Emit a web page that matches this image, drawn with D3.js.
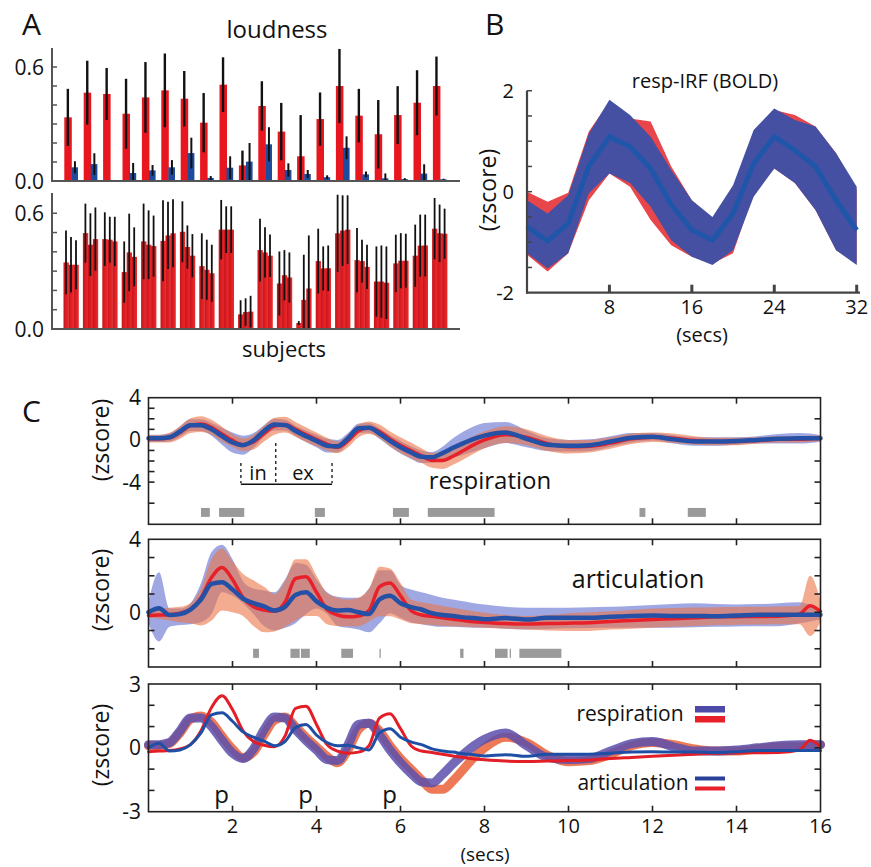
<!DOCTYPE html>
<html><head><meta charset="utf-8">
<script src="https://cdn.jsdelivr.net/npm/d3@7"></script>
<style>body{margin:0;background:#fff}svg{display:block;font-family:"Open Sans",sans-serif}</style>
</head><body><svg id="c" width="871" height="867"></svg>
<script>
// ---------------- DATA ----------------
// Panel A
const subjects = [1,2,3,4,5,6,7,8,9,10,11,12,13,14,15,16,17,18,19,20];
const loudRed    = [0.335,0.465,0.458,0.354,0.44,0.477,0.433,0.307,0.507,0.082,0.395,0.26,0.13,0.326,0.5,0.344,0.246,0.347,0.412,0.5];
const loudRedErr = [0.15,0.168,0.137,0.184,0.186,0.194,0.146,0.156,0.144,0.078,0.13,0.151,0.217,0.14,0.195,0.141,0.18,0.152,0.171,0.155];
const loudBlue    = [0.072,0.089,0.004,0.042,0.056,0.072,0.147,0.016,0.07,0.102,0.193,0.058,0.037,0.02,0.175,0.035,0.014,0.01,0.039,0.009];
const loudBlueErr = [0.032,0.057,0.0,0.053,0.028,0.038,0.081,0.01,0.06,0.098,0.09,0.035,0.021,0.01,0.06,0.015,0.026,0.005,0.049,0.003];
const allA = [0.345,0.497,0.466,0.295,0.454,0.457,0.504,0.326,0.515,0.076,0.409,0.236,0.031,0.352,0.496,0.357,0.246,0.34,0.38,0.52];
const allB = [0.333,0.437,0.463,0.397,0.437,0.485,0.425,0.307,0.515,0.088,0.397,0.279,0.151,0.314,0.51,0.352,0.246,0.354,0.432,0.496];
const allC = [0.333,0.466,0.454,0.374,0.43,0.496,0.38,0.289,0.515,0.09,0.38,0.267,0.21,0.315,0.515,0.322,0.24,0.354,0.433,0.494];
const errA = [0.165,0.153,0.139,0.159,0.196,0.21,0.158,0.17,0.154,0.073,0.163,0.166,0.01,0.168,0.2,0.166,0.182,0.149,0.161,0.159];
const errB = [0.144,0.163,0.119,0.201,0.178,0.174,0.112,0.156,0.121,0.071,0.13,0.13,0.234,0.114,0.183,0.111,0.187,0.143,0.161,0.149];
const errC = [0.127,0.164,0.128,0.153,0.158,0.176,0.112,0.148,0.121,0.082,0.11,0.13,0.275,0.118,0.178,0.115,0.188,0.14,0.16,0.13];
const yTicksA = [0.0,0.6];

// Panel B
const tB      = [0,2,4,6,8,10,12,14,16,18,20,22,24,26,28,30,32];
const bMean   = [-0.69,-0.98,-0.63,0.5,1.09,0.89,0.46,-0.26,-0.76,-0.96,-0.43,0.56,1.09,0.82,0.5,-0.17,-0.76];
const bBlueHi = [-0.17,-0.43,-0.07,1.15,1.82,1.52,1.09,0.43,-0.17,-0.5,0.13,1.22,1.65,1.42,1.29,0.76,0.1];
const bBlueLo = [-1.22,-1.52,-1.22,-0.03,0.36,0.17,-0.3,-0.96,-1.29,-1.45,-1.16,-0.1,0.46,0.17,-0.36,-1.16,-1.45];
const bRedHi  = [0,-0.2,-0.02,1.19,1.78,1.45,1.39,0.5,-0.17,-0.53,0.07,1.19,1.62,1.52,1.29,0.76,0.03];
const bRedLo  = [-1.25,-1.58,-1.22,-0.17,0.36,0.1,-0.56,-1.06,-1.29,-1.42,-1.22,-0.03,0.46,0.17,-0.36,-1.16,-1.42];
const xTicksB = [8,16,24,32];
const yTicksB = [-2,0,2];

// Panel C
const tC = [0,0.25,0.5,0.75,1,1.25,1.5,1.75,2,2.25,2.5,2.75,3,3.25,3.5,3.75,4,4.25,4.5,4.75,5,5.25,5.5,5.75,6,6.25,6.5,6.75,7,7.25,7.5,7.75,8,8.5,9,9.5,10,10.5,11,11.5,12,12.5,13,13.5,14,14.5,15,15.5,15.75,16];
const respBlue = [0.15,0.15,0.25,0.8,1.4,1.4,1.0,0.35,-0.25,-0.5,-0.05,0.85,1.45,1.4,0.85,0.35,-0.1,-0.55,-0.6,0.15,1.1,1.15,0.6,-0.1,-0.7,-1.2,-1.6,-1.65,-1.25,-0.75,-0.3,0.1,0.4,0.7,0.1,-0.45,-0.55,-0.5,-0.15,0.2,0.3,0.05,-0.15,-0.15,-0.1,0,0.1,0.15,0.15,0.15];
const respRed  = [0.1,0.1,0.2,0.7,1.35,1.5,1.2,0.55,-0.05,-0.45,-0.2,0.6,1.3,1.45,1.0,0.5,0.05,-0.4,-0.7,-0.1,0.85,1.15,0.8,0.1,-0.5,-1.0,-1.5,-1.95,-1.95,-1.55,-1.0,-0.45,0.0,0.5,0.25,-0.35,-0.65,-0.6,-0.3,0.1,0.25,0.15,-0.05,-0.15,-0.15,-0.05,0.05,0.05,0.1,0.15];
const respBlueHalf = [0.35,0.35,0.4,0.5,0.55,0.55,0.6,0.8,0.95,0.9,0.7,0.55,0.55,0.5,0.5,0.55,0.6,0.65,0.6,0.5,0.45,0.45,0.5,0.55,0.6,0.6,0.6,0.5,0.6,0.9,1.1,1.2,1.2,1.0,0.8,0.6,0.55,0.55,0.5,0.45,0.35,0.4,0.4,0.4,0.35,0.35,0.45,0.5,0.45,0.3];
const respRedHalf  = [0.35,0.35,0.45,0.6,0.7,0.75,0.7,0.7,0.6,0.6,0.7,0.75,0.8,0.75,0.7,0.7,0.65,0.6,0.55,0.6,0.6,0.6,0.65,0.7,0.75,0.75,0.7,0.7,0.8,0.8,0.85,0.85,0.8,0.8,0.75,0.7,0.65,0.6,0.55,0.5,0.45,0.45,0.4,0.35,0.35,0.3,0.3,0.3,0.3,0.3];
const artBlue   = [0,0.22,-0.15,-0.1,0.15,0.7,1.55,1.65,1.25,0.75,0.5,0.32,0.1,0.3,0.95,1.1,0.6,0.25,0.1,0.12,0.0,-0.1,0.7,0.9,0.5,0.28,0.15,-0.05,-0.15,-0.2,-0.28,-0.32,-0.38,-0.32,-0.4,-0.3,-0.3,-0.3,-0.25,-0.2,-0.18,-0.2,-0.2,-0.22,-0.18,-0.13,-0.13,-0.13,-0.13,-0.13];
const artRed    = [-0.18,-0.15,-0.13,-0.05,0.15,0.8,1.9,2.45,1.8,0.8,0.3,0.12,0.05,0.55,1.85,1.95,1.1,0.15,-0.15,-0.25,-0.2,0.1,1.4,1.6,0.9,0.1,-0.15,-0.22,-0.3,-0.38,-0.45,-0.52,-0.56,-0.62,-0.64,-0.62,-0.6,-0.57,-0.5,-0.45,-0.4,-0.35,-0.3,-0.25,-0.24,-0.23,-0.22,-0.1,0.36,0.05];
const artBlueHi = [0.6,2.2,0.2,0.2,0.5,1.6,3.3,3.7,2.9,1.7,1.3,1.2,1.1,1.8,2.7,2.6,1.8,1.1,0.85,0.8,0.8,1.3,2.3,2.3,1.5,1.25,1.1,0.95,0.8,0.7,0.6,0.5,0.42,0.3,0.25,0.25,0.25,0.28,0.3,0.35,0.4,0.45,0.5,0.45,0.42,0.45,0.5,0.55,0.4,0.15];
const artBlueLo = [-0.6,-1.6,-0.8,-0.7,-0.65,-0.55,-0.1,1.1,0.9,0.5,-0.1,-0.75,-1.0,-0.85,-0.6,-0.1,0.2,-0.1,-0.75,-0.85,-0.95,-1.1,-0.6,-0.05,-0.3,-0.55,-0.65,-0.75,-0.8,-0.8,-0.82,-0.85,-0.85,-0.9,-0.95,-0.92,-0.88,-0.86,-0.85,-0.85,-0.85,-0.85,-0.82,-0.8,-0.78,-0.77,-0.76,-0.6,-0.5,-0.4];
const artRedHi  = [0.15,0.2,0.25,0.3,0.5,1.3,2.9,3.5,2.8,2.1,1.75,1.4,1.0,1.7,2.9,2.9,2.0,1.05,0.8,0.7,0.8,1.3,2.5,2.4,1.6,0.7,0.55,0.45,0.35,0.25,0.15,0.05,-0.02,-0.15,-0.2,-0.15,-0.05,0.0,0.05,0.12,0.2,0.24,0.26,0.28,0.29,0.3,0.32,0.35,2.0,0.6];
const artRedLo  = [-0.3,-0.35,-0.45,-0.55,-0.6,-0.72,-0.45,0.1,0.0,-0.2,-0.75,-1.1,-1.05,-0.8,-0.45,-0.2,-0.2,-0.65,-0.75,-0.76,-0.76,-0.5,-0.22,-0.22,-0.4,-0.6,-0.65,-0.7,-0.75,-0.77,-0.8,-0.82,-0.85,-0.9,-0.95,-1.0,-1.03,-1.02,-0.95,-0.9,-0.85,-0.8,-0.75,-0.7,-0.68,-0.67,-0.66,-0.65,-1.3,-0.5];
const sigResp = [[1.25,1.46],[1.68,2.28],[3.96,4.2],[5.82,6.2],[6.65,8.24],[11.69,11.83],[12.84,13.27]];
const sigArt  = [[2.49,2.63],[3.38,3.6],[3.63,3.84],[4.59,4.87],[5.5,5.53],[7.42,7.5],[8.25,8.55],[8.6,8.63],[8.83,9.83]];
const xTicksC = [2,4,6,8,10,12,14,16];
const inExMarks = [2.2,3.03,4.37];

// ---------------- DRAW ----------------
const svg = d3.select('#c');
function txt(x,y,s,size,anchor,extra){
  const t = svg.append('text').attr('x',x).attr('y',y).text(s)
    .attr('font-size',size).attr('text-anchor',anchor||'middle').attr('fill','#111');
  if(extra) extra(t);
  return t;
}
const RED='#e8161e', BLUE='#1d4c9e';

// ===== Panel A =====
const xA = d3.scaleBand().domain(subjects).range([63.5,447.1]).paddingInner(0.227).paddingOuter(0);
const pairA = d3.scaleBand().domain(['r','b']).range([0.8,xA.bandwidth()]);
const triA = d3.scaleBand().domain([0,1,2]).range([0,xA.bandwidth()]);
const yA1 = d3.scaleLinear([0,0.7],[181,48]);
const yA2 = d3.scaleLinear([0,0.705],[329,193]);

const defs = svg.append('defs');
const gr = defs.append('linearGradient').attr('id','rg').attr('x1',0).attr('x2',1).attr('y1',0).attr('y2',0);
gr.append('stop').attr('offset',0).attr('stop-color','#c8141b');
gr.append('stop').attr('offset',1).attr('stop-color','#ef2a2c');

const gA1 = svg.append('g');
subjects.forEach((s,i)=>{
  gA1.append('rect').attr('x',xA(s)+pairA('r')).attr('width',pairA.bandwidth()+0.4)
    .attr('y',yA1(loudRed[i])).attr('height',yA1(0)-yA1(loudRed[i])).attr('fill',RED);
  gA1.append('rect').attr('x',xA(s)+pairA('b')).attr('width',pairA.bandwidth()-0.5)
    .attr('y',yA1(loudBlue[i])).attr('height',yA1(0)-yA1(loudBlue[i])).attr('fill',BLUE);
  const cr = xA(s)+pairA('r')+pairA.bandwidth()/2, cb = xA(s)+pairA('b')+pairA.bandwidth()/2;
  gA1.append('line').attr('x1',cr).attr('x2',cr).attr('y1',yA1(Math.max(0,loudRed[i]-loudRedErr[i]))).attr('y2',yA1(loudRed[i]+loudRedErr[i]))
    .attr('stroke','#111').attr('stroke-width',2.4);
  if(loudBlueErr[i]>0) gA1.append('line').attr('x1',cb).attr('x2',cb).attr('y1',yA1(Math.max(0,loudBlue[i]-loudBlueErr[i]))).attr('y2',yA1(loudBlue[i]+loudBlueErr[i]))
    .attr('stroke','#111').attr('stroke-width',2);
});
const gA2 = svg.append('g');
const allV=[allA,allB,allC], allE=[errA,errB,errC];
subjects.forEach((s,i)=>{
  [0,1,2].forEach(k=>{
    const v=allV[k][i];
    gA2.append('rect').attr('x',xA(s)+triA(k)).attr('width',triA.bandwidth()+0.3)
      .attr('y',yA2(v)).attr('height',yA2(0)-yA2(v)).attr('fill','url(#rg)');
  });
  [0,1,2].forEach(k=>{
    const v=allV[k][i], e=allE[k][i], c=xA(s)+triA(k)+triA.bandwidth()/2;
    gA2.append('line').attr('x1',c).attr('x2',c).attr('y1',yA2(Math.max(0,v-e))).attr('y2',yA2(v+e))
      .attr('stroke','#111').attr('stroke-width',1.8);
  });
});
function axisA(y, top){
  const g = svg.append('g').attr('stroke','#555').attr('stroke-width',2);
  g.append('line').attr('x1',52).attr('x2',52).attr('y1',top).attr('y2',y(0)+1);
  g.append('line').attr('x1',51).attr('x2',460).attr('y1',y(0)).attr('y2',y(0));
  d3.range(1,7).forEach(k=>{ g.append('line').attr('x1',52).attr('x2',57).attr('y1',y(k/10)).attr('y2',y(k/10)).attr('stroke-width',1.5); });
  yTicksA.forEach(v=>txt(44,y(v),d3.format('.1f')(v),21,'end',t=>t.attr('dy','0.36em')));
}
axisA(yA1,48); axisA(yA2,193);
txt(22,35,'A',30,'start');
txt(277,38,'loudness',24);
txt(284,357,'subjects',22);

// ===== Panel B =====
const xB = d3.scaleLinear([0,32],[527,856.7]);
const yB = d3.scaleLinear([-2,2],[292.7,90.7]);
const idxB = d3.range(tB.length);
const areaB = (lo,hi)=>d3.area().x(i=>xB(tB[i])).y0(i=>yB(lo[i])).y1(i=>yB(hi[i]));
svg.append('path').attr('d',areaB(bRedLo,bRedHi)(idxB)).attr('fill','#e8464a');
svg.append('path').attr('d',areaB(bBlueLo,bBlueHi)(idxB)).attr('fill','#4550a2');
svg.append('path').attr('d',d3.line().x(i=>xB(tB[i])).y(i=>yB(bMean[i]))(idxB))
  .attr('fill','none').attr('stroke','#1f56aa').attr('stroke-width',5);
const gB = svg.append('g').attr('stroke','#444').attr('stroke-width',2.2);
gB.append('line').attr('x1',xB(0)).attr('x2',xB(0)).attr('y1',yB(2)).attr('y2',yB(-2)+1);
gB.append('line').attr('x1',xB(0)-1).attr('x2',860).attr('y1',yB(-2)).attr('y2',yB(-2));
d3.range(-1.5,2.01,0.5).forEach(v=>gB.append('line').attr('x1',xB(0)).attr('x2',xB(0)+5).attr('y1',yB(v)).attr('y2',yB(v)).attr('stroke-width',1.5));
xTicksB.forEach(v=>gB.append('line').attr('x1',xB(v)).attr('x2',xB(v)).attr('y1',yB(-2)).attr('y2',yB(-2)-8).attr('stroke-width',3));
yTicksB.forEach(v=>txt(514,yB(v),String(v),20,'end',t=>t.attr('dy','0.36em')));
xTicksB.forEach(v=>txt(xB(v),314,String(v),20));
txt(702,342,'(secs)',20);
txt(705,88,'resp-IRF (BOLD)',20);
txt(488,190,'(zscore)',23,'middle',t=>t.attr('transform','rotate(-90,488,190)').attr('dy','0.35em'));
txt(485,35,'B',30,'start');

// ===== Panel C =====
const xC = d3.scaleLinear([0,16],[148.5,820.5]);
const yC1 = d3.scaleLinear([-8,4],[524.3,397.7]);
const yC2 = d3.scaleLinear([-3,4],[667,539.3]);
const yC3 = d3.scaleLinear([-3,3],[811.7,684]);
const idxC = d3.range(tC.length);
const cv = d3.curveMonotoneX;
function band(y, lo, hi, fill, op){
  svg.append('path').attr('d',d3.area().curve(cv).x(i=>xC(tC[i])).y0(i=>y(lo(i))).y1(i=>y(hi(i)))(idxC))
    .attr('fill',fill).attr('opacity',op);
}
function line(y, arr, color, w, op){
  svg.append('path').attr('d',d3.line().curve(cv).x(i=>xC(tC[i])).y(i=>y(arr[i]))(idxC))
    .attr('fill','none').attr('stroke',color).attr('stroke-width',w).attr('opacity',op||1)
    .attr('stroke-linejoin','round').attr('stroke-linecap','round');
}
function sig(y, arr, v0, v1){
  arr.forEach(([a,b])=>svg.append('rect').attr('x',xC(a)).attr('width',Math.max(1.2,xC(b)-xC(a)))
    .attr('y',y(v1)).attr('height',y(v0)-y(v1)).attr('fill','#9a9a9a'));
}
function frame(y, d0, d1, ticksL, ticksR, labels){
  const g = svg.append('g').attr('stroke','#222').attr('stroke-width',1.6).attr('fill','none');
  g.append('rect').attr('x',xC(0)).attr('y',y(d1)).attr('width',xC(16)-xC(0)).attr('height',y(d0)-y(d1));
  xTicksC.slice(0,-1).forEach(v=>{
    g.append('line').attr('x1',xC(v)).attr('x2',xC(v)).attr('y1',y(d1)).attr('y2',y(d1)+6);
    g.append('line').attr('x1',xC(v)).attr('x2',xC(v)).attr('y1',y(d0)).attr('y2',y(d0)-6);
  });
  ticksL.forEach(v=>g.append('line').attr('x1',xC(0)).attr('x2',xC(0)+6).attr('y1',y(v)).attr('y2',y(v)));
  ticksR.forEach(v=>g.append('line').attr('x1',xC(16)).attr('x2',xC(16)-6).attr('y1',y(v)).attr('y2',y(v)));
  labels.forEach(v=>txt(141,y(v),String(v),21,'end',t=>t.attr('dy','0.36em')));
}
function zlab(cy){ txt(101,cy,'(zscore)',23,'middle',t=>t.attr('transform',`rotate(-90,101,${cy})`).attr('dy','0.35em')); }

// C1 respiration
band(yC1,i=>respBlue[i]-respBlueHalf[i],i=>respBlue[i]+respBlueHalf[i],'#7f8bd8',0.75);
band(yC1,i=>respRed[i]-respRedHalf[i],i=>respRed[i]+respRedHalf[i],'#ec7448',0.6);
line(yC1,respRed,'#e8202a',3.5);
line(yC1,respBlue,'#2450a6',4.5);
sig(yC1,sigResp,-7.3,-6.45);
frame(yC1,-8,4,[-6,-4,-3,-2,-1,1,2,3],[-6,-4,-2,2],[4,0,-4]);
const gi = svg.append('g').attr('stroke','#111').attr('stroke-width',1.3);
inExMarks.forEach((t,k)=>gi.append('line').attr('x1',xC(t)).attr('x2',xC(t))
  .attr('y1',yC1(k===1?-0.3:-2.2)).attr('y2',yC1(-4.1)).attr('stroke-dasharray','3,3'));
gi.append('line').attr('x1',xC(inExMarks[0])).attr('x2',xC(inExMarks[2])).attr('y1',yC1(-4.2)).attr('y2',yC1(-4.2)).attr('stroke-width',1.6);
txt(258,480,'in',20);
txt(303,480,'ex',20);
txt(490,489,'respiration',24);
zlab(440);
txt(22,422,'C',30,'start');

// C2 articulation
band(yC2,i=>artBlueLo[i],i=>artBlueHi[i],'#7f8bd8',0.75);
band(yC2,i=>artRedLo[i],i=>artRedHi[i],'#ec7448',0.6);
line(yC2,artRed,'#e8202a',3.5);
line(yC2,artBlue,'#2450a6',4.5);
sig(yC2,sigArt,-2.5,-2.0);
frame(yC2,-3,4,[-2,-1,1,2,3],[-2,-1,0,1,2,3],[4,0]);
txt(638,588,'articulation',25);
zlab(590);

// C3 overlay
line(yC3,respRed,'#ec6a44',9,0.9);
line(yC3,respBlue,'#5a4fac',9,0.85);
line(yC3,artRed,'#e41e26',3);
line(yC3,artBlue,'#1f4fa5',3);
frame(yC3,-3,3,[-2,-1,1,2],[-2,-1,0,1,2],[3,0,-3]);
xTicksC.forEach(v=>txt(xC(v),833,String(v),20));
txt(485,861,'(secs)',19);
[1.75,3.75,5.75].forEach(t=>txt(xC(t)-0.5,803,'p',24));
zlab(745);
// legend
txt(630,721,'respiration',21);
svg.append('rect').attr('x',695).attr('y',706).attr('width',30).attr('height',6.5).attr('fill','#4d4aa8');
svg.append('rect').attr('x',695).attr('y',716).attr('width',30).attr('height',6.5).attr('fill','#e8202a');
txt(633,790,'articulation',21);
svg.append('rect').attr('x',695).attr('y',776.5).attr('width',30).attr('height',4).attr('fill','#2a3f98');
svg.append('rect').attr('x',695).attr('y',786.5).attr('width',30).attr('height',4).attr('fill','#e8202a');
</script></body></html>
